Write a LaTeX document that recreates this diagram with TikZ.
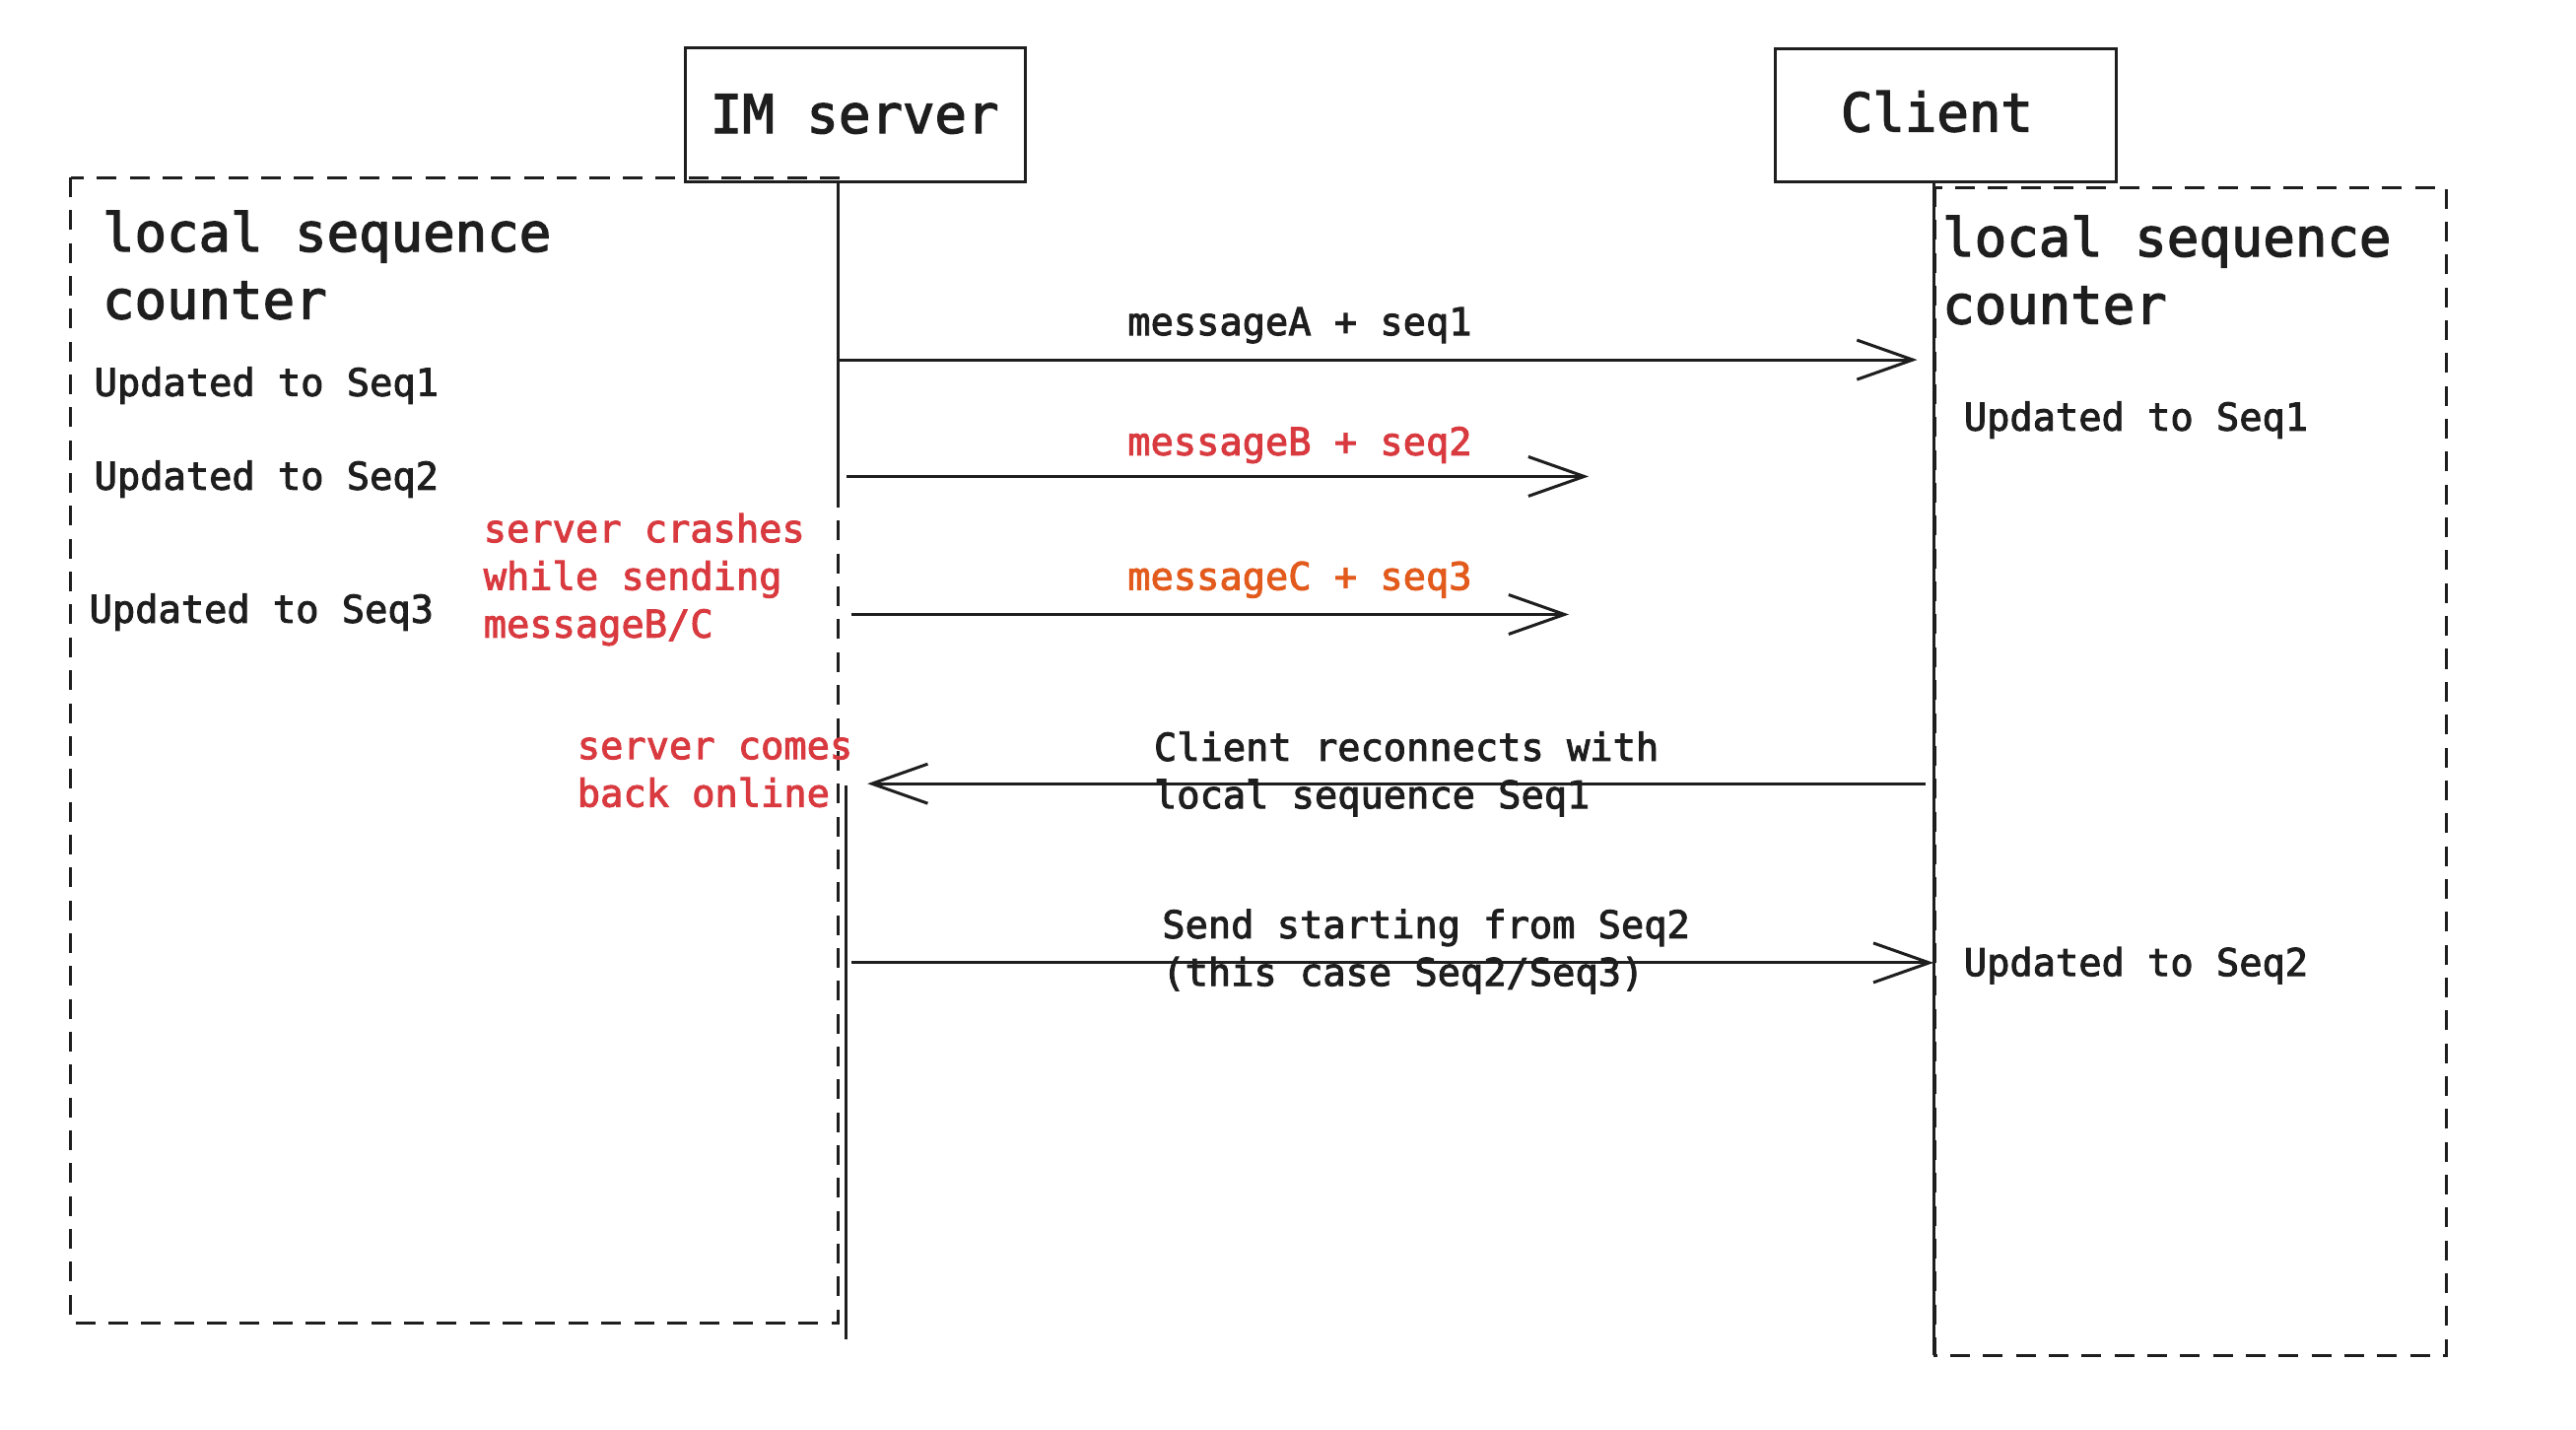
\documentclass[tikz,border=0pt]{standalone}
\usepackage{fontspec}
\newfontfamily\sketchmono{DejaVu Sans Mono}[FakeBold=2.5]
\usetikzlibrary{arrows.meta}
\definecolor{exred}{HTML}{D83A3F}
\definecolor{exorange}{HTML}{E25A1C}
\definecolor{ink}{HTML}{1E1E1E}
\begin{document}
\begin{tikzpicture}[x=0.5pt,y=-0.5pt,
  small/.style={font=\sketchmono\fontsize{11.6}{14.5}\selectfont,inner sep=0pt,align=left,text=ink},
  big/.style={font=\sketchmono\fontsize{16.2}{20.5}\selectfont,inner sep=0pt,align=left,text=ink},
  actor/.style={draw=ink,line width=0.9pt,rectangle},
  dashbox/.style={draw=ink,line width=0.9pt,dash pattern=on 6pt off 4pt},
  life/.style={draw=ink,line width=0.9pt},
  msg/.style={draw=ink,line width=0.9pt,-{Straight Barb[length=17pt,width=12pt]}},
]
\useasboundingbox (0,0) rectangle (1568,870);
% dashed counter boxes
\draw[dashbox] (43,108) rectangle (510,805);
\draw[dashbox] (1178,114) rectangle (1489,825);
% actor boxes
\node[actor,minimum width=103.5pt,minimum height=41pt,anchor=north west] (srv) at (416,28) {};
\node[big,anchor=base west] (srvt) at (432,81) {IM server};
\node[actor,minimum width=103.5pt,minimum height=40.5pt,anchor=north west] (cli) at (1080,29) {};
\node[big,anchor=base west] (clit) at (1120,80) {Client};
% lifelines
\coordinate (s0) at (510,110);
\coordinate (s1) at (510,300);
\coordinate (s2) at (515,478);
\coordinate (s3) at (515,815);
\coordinate (c0) at (1177,110);
\coordinate (c1) at (1177,825);
\draw[life] (s0) -- (s1);
\draw[life] (s2) -- (s3);
\draw[life] (c0) -- (c1);
% headings (base = last line)
\node[big,anchor=base west] (lh) at (62,194) {local sequence\\counter};
\node[big,anchor=base west] (rh) at (1182,197) {local sequence\\counter};
% left updates
\node[small,anchor=base west] (l1) at (57,241) {Updated to Seq1};
\node[small,anchor=base west] (l2) at (57,298) {Updated to Seq2};
\node[small,anchor=base west] (l3) at (54,379) {Updated to Seq3};
\node[small,anchor=base west,text=exred] (crash) at (294,388) {server crashes\\while sending\\messageB/C};
\node[small,anchor=base west,text=exred] (back) at (351,491) {server comes\\back online};
% right updates
\node[small,anchor=base west] (r1) at (1195,262) {Updated to Seq1};
\node[small,anchor=base west] (r2) at (1195,594) {Updated to Seq2};
% messages
\coordinate (a1s) at (510,219); \coordinate (a1e) at (1167,219);
\coordinate (a2s) at (515,290); \coordinate (a2e) at (967,290);
\coordinate (a3s) at (518,374); \coordinate (a3e) at (955,374);
\coordinate (a4s) at (1172,477); \coordinate (a4e) at (528,477);
\coordinate (a5s) at (518,586); \coordinate (a5e) at (1177,586);
\draw[msg] (a1s) -- (a1e);
\draw[msg] (a2s) -- (a2e);
\draw[msg] (a3s) -- (a3e);
\draw[msg] (a4s) -- (a4e);
\draw[msg] (a5s) -- (a5e);
\node[small,anchor=base west] (m1) at (686,204) {messageA + seq1};
\node[small,anchor=base west,text=exred] (m2) at (686,277) {messageB + seq2};
\node[small,anchor=base west,text=exorange] (m3) at (686,359) {messageC + seq3};
\node[small,anchor=base west] (m4) at (702,492) {Client reconnects with\\local sequence Seq1};
\node[small,anchor=base west] (m5) at (707,600) {Send starting from Seq2\\(this case Seq2/Seq3)};
\end{tikzpicture}
\end{document}
